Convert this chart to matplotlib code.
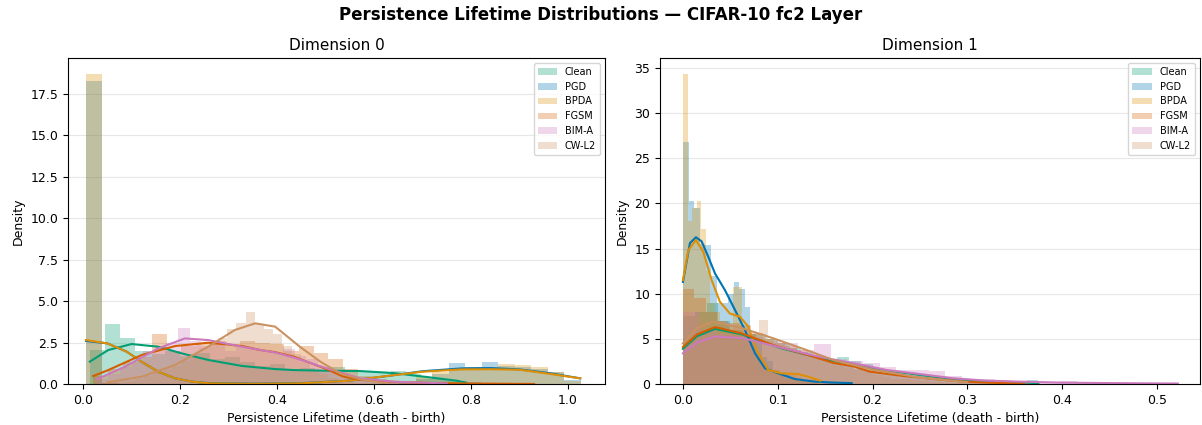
#!/usr/bin/env python3
"""Persistence lifetime histograms (dim 0 / dim 1) for the CIFAR-10 fc2 layer."""

import matplotlib

matplotlib.use("Agg")
import matplotlib.pyplot as plt

SERIES = ["Clean", "PGD", "BPDA", "FGSM", "BIM-A", "CW-L2"]
COLORS = ["#029e73", "#0173b2", "#de8f05", "#d55e00", "#cc78bc", "#ca9161"]

# ---- Dimension 0: histogram bins (start, width, heights) ----
dim0_start = [0.014, 0.006, 0.006, 0.021, 0.028, 0.050]
dim0_width = [0.031, 0.034, 0.034, 0.0303, 0.024, 0.019]
dim0_clean = [2.05, 3.62, 2.8, 2.0, 1.8, 2.0, 1.7, 1.9, 1.5, 1.6, 1.3, 1.1, 1.2, 0.9,
              0.95, 0.8, 1.0, 0.85, 0.8, 0.75, 0.8, 0.6, 0.45, 0.3, 0.2, 0.1]
dim0_pgd = [18.3, 0.05, 0.0, 0.0, 0.0, 0.0, 0.0, 0.0, 0.0, 0.0, 0.0, 0.0, 0.0, 0.0, 0.0,
            0.0, 0.0, 0.0, 0.0, 0.1, 0.3, 0.6, 1.27, 1.05, 1.31, 1.1, 1.0, 0.9, 0.7, 0.25]
dim0_bpda = [18.7, 0.05, 0.0, 0.0, 0.0, 0.0, 0.0, 0.0, 0.0, 0.0, 0.0, 0.0, 0.0, 0.0, 0.0,
             0.0, 0.0, 0.0, 0.05, 0.2, 0.4, 0.7, 0.95, 1.0, 1.05, 1.2, 1.15, 1.0, 0.7, 0.2]
dim0_fgsm = [0.5, 0.9, 1.3, 1.6, 3.0, 2.0, 2.3, 2.4, 2.6, 2.3, 2.6, 2.5, 2.4, 2.0, 2.3,
             1.9, 1.5, 0.9, 0.5, 0.3, 0.2, 0.15, 0.1, 0.05, 0.1, 0.0, 0.05, 0.0, 0.0, 0.05]
dim0_bim = [0.3, 0.6, 1.0, 1.3, 2.0, 2.3, 2.5, 3.36, 2.6, 2.3, 2.4, 2.0, 2.3, 2.1, 2.0,
            1.9, 2.1, 1.7, 1.5, 1.0, 0.7, 0.5, 0.35, 0.25, 0.15, 0.1, 0.05, 0.05, 0.02, 0.02]
dim0_cw = [0.1, 0.15, 0.2, 0.3, 0.5, 0.7, 0.9, 1.1, 1.4, 1.8, 2.2, 2.5, 2.8, 3.3, 3.7,
           4.33, 3.6, 3.3, 3.0, 2.3, 1.8, 1.3, 0.9, 0.6, 0.35, 0.2, 0.1, 0.05, 0.05, 0.02]

# ---- Dimension 0: KDE curves ----
kde0_clean_x = [0.014, 0.052, 0.10, 0.155, 0.203, 0.258, 0.327, 0.396, 0.434, 0.502,
                0.571, 0.64, 0.709, 0.77, 0.79]
kde0_clean_y = [1.35, 2.05, 2.41, 2.25, 1.85, 1.45, 1.09, 0.9, 0.84, 0.8, 0.78, 0.66,
                0.42, 0.2, 0.08]
kde0_pgd_x = [0.006, 0.05, 0.09, 0.12, 0.155, 0.19, 0.225, 0.26, 0.35, 0.45, 0.55, 0.62,
              0.7, 0.78, 0.84, 0.9, 0.96, 1.025]
kde0_pgd_y = [2.6, 2.45, 1.95, 1.35, 0.74, 0.34, 0.14, 0.05, 0.02, 0.05, 0.2, 0.45,
              0.77, 0.94, 0.96, 0.88, 0.66, 0.34]
kde0_bpda_x = [0.006, 0.05, 0.09, 0.12, 0.155, 0.19, 0.225, 0.26, 0.35, 0.45, 0.55, 0.62,
               0.7, 0.78, 0.84, 0.9, 0.96, 1.025]
kde0_bpda_y = [2.65, 2.45, 1.95, 1.35, 0.74, 0.34, 0.14, 0.04, 0.01, 0.04, 0.2, 0.46,
               0.74, 0.88, 0.89, 0.86, 0.62, 0.34]
kde0_fgsm_x = [0.021, 0.052, 0.121, 0.19, 0.258, 0.327, 0.365, 0.396, 0.434, 0.502,
               0.536, 0.571, 0.64, 0.74, 0.93]
kde0_fgsm_y = [0.48, 0.84, 1.75, 2.29, 2.49, 2.3, 2.05, 1.92, 1.65, 0.9, 0.45, 0.25,
               0.13, 0.04, 0.0]
kde0_bim_x = [0.028, 0.087, 0.155, 0.21, 0.258, 0.327, 0.396, 0.434, 0.502, 0.571, 0.64,
              0.75]
kde0_bim_y = [0.28, 1.05, 2.15, 2.75, 2.65, 2.25, 1.9, 1.6, 0.95, 0.34, 0.14, 0.03]
kde0_cw_x = [0.05, 0.121, 0.19, 0.258, 0.313, 0.355, 0.396, 0.447, 0.489, 0.53, 0.571,
             0.62]
kde0_cw_y = [0.1, 0.44, 1.15, 2.25, 3.26, 3.66, 3.46, 2.25, 1.35, 0.64, 0.28, 0.06]

# ---- Dimension 1: histogram bins ----
dim1_start = [0.0, 0.0, 0.0, 0.0, 0.0, 0.0]
dim1_width = [0.0125, 0.00593, 0.00483, 0.012, 0.0173, 0.01]
dim1_clean = [7.5, 8.0, 9.0, 7.0, 6.0, 5.5, 5.5, 5.0, 4.5, 4.0, 3.5, 3.0, 2.7, 3.0, 2.5,
              2.2, 1.8, 1.5, 1.2, 1.0, 1.0, 0.8, 0.6, 0.5, 0.4, 0.3, 0.2, 0.15, 0.1, 0.4]
dim1_pgd = [26.8, 20.3, 19.5, 15.5, 15.4, 12.0, 9.0, 9.0, 10.0, 11.3, 10.5, 8.5, 5.5,
            5.0, 3.0, 2.5, 1.5, 1.2, 1.0, 0.8, 0.5, 0.4, 0.2, 0.3, 0.0, 0.2, 0.1, 0.0,
            0.1, 0.2]
dim1_bpda = [34.3, 18.0, 19.5, 20.3, 17.2, 12.5, 9.0, 8.0, 7.0, 6.5, 6.0, 10.7, 10.7,
             6.0, 5.0, 4.0, 3.0, 2.0, 1.5, 1.2, 1.5, 1.0, 0.5, 1.0, 1.2, 0.8, 0.5, 0.3,
             0.5, 0.3]
dim1_fgsm = [10.5, 9.5, 8.0, 7.0, 6.8, 6.5, 5.6, 5.0, 4.5, 4.2, 3.8, 3.2, 2.8, 2.4, 2.0,
             1.7, 1.5, 1.2, 1.0, 0.8, 0.7, 0.5, 0.5, 0.4, 0.3, 0.2, 0.2, 0.1, 0.1, 0.1]
dim1_bim = [8.0, 6.0, 5.5, 5.0, 5.2, 4.8, 4.5, 3.8, 4.4, 2.8, 2.5, 2.3, 1.9, 1.5, 1.5,
            1.4, 0.9, 0.6, 0.5, 0.4, 0.3, 0.2, 0.1, 0.3, 0.2, 0.1, 0.0, 0.1, 0.0, 0.05]
dim1_cw = [8.0, 7.5, 7.0, 6.5, 6.0, 6.5, 6.0, 5.5, 7.1, 5.0, 4.5, 4.0, 3.5, 3.0, 2.8,
           2.5, 2.0, 1.8, 1.5, 1.3, 1.0, 0.8, 0.6, 0.5, 0.4, 0.3, 0.2, 0.2, 0.1, 0.1]

# ---- Dimension 1: KDE curves ----
kde1_clean_x = [0.0, 0.015, 0.034, 0.062, 0.083, 0.104, 0.132, 0.16, 0.18, 0.215, 0.25,
                0.285, 0.32, 0.375]
kde1_clean_y = [3.9, 5.3, 6.1, 5.5, 4.7, 3.95, 3.2, 2.5, 2.2, 1.48, 1.0, 0.55, 0.3, 0.1]
kde1_pgd_x = [0.0, 0.0074, 0.0137, 0.0197, 0.0267, 0.0338, 0.0443, 0.0549, 0.0654,
              0.076, 0.0865, 0.1005, 0.118, 0.139, 0.16, 0.178]
kde1_pgd_y = [11.3, 15.6, 16.25, 15.8, 14.1, 12.25, 10.4, 8.2, 5.98, 3.4, 1.74, 1.18,
              0.55, 0.26, 0.15, 0.1]
kde1_bpda_x = [0.0, 0.0056, 0.0137, 0.0214, 0.0303, 0.039, 0.0496, 0.0601, 0.0689,
               0.0777, 0.09, 0.104, 0.1216, 0.132, 0.145]
kde1_bpda_y = [11.5, 14.8, 15.95, 14.65, 11.5, 9.1, 7.8, 7.45, 6.35, 3.77, 1.55, 1.18,
               1.1, 0.81, 0.37]
kde1_fgsm_x = [0.0, 0.015, 0.034, 0.062, 0.097, 0.132, 0.16, 0.18, 0.197, 0.232, 0.268,
               0.296, 0.32, 0.36]
kde1_fgsm_y = [4.1, 5.5, 6.3, 5.6, 4.25, 3.2, 2.3, 1.95, 1.37, 0.89, 0.52, 0.26, 0.15,
               0.05]
kde1_bim_x = [0.0, 0.015, 0.034, 0.062, 0.097, 0.132, 0.1445, 0.18, 0.215, 0.25, 0.285,
              0.32, 0.355, 0.4, 0.45, 0.522]
kde1_bim_y = [3.4, 4.6, 5.25, 5.1, 4.2, 3.3, 3.0, 2.29, 1.55, 1.1, 0.63, 0.37, 0.26,
              0.15, 0.1, 0.05]
kde1_cw_x = [0.0, 0.015, 0.032, 0.062, 0.097, 0.132, 0.16, 0.2, 0.25, 0.3]
kde1_cw_y = [4.5, 6.2, 6.9, 6.2, 5.0, 3.7, 2.6, 1.6, 0.7, 0.2]

PANELS = [
    {
        "title": "Dimension 0",
        "starts": dim0_start,
        "widths": dim0_width,
        "hists": [dim0_clean, dim0_pgd, dim0_bpda, dim0_fgsm, dim0_bim, dim0_cw],
        "kdes": [(kde0_clean_x, kde0_clean_y), (kde0_pgd_x, kde0_pgd_y),
                 (kde0_bpda_x, kde0_bpda_y), (kde0_fgsm_x, kde0_fgsm_y),
                 (kde0_bim_x, kde0_bim_y), (kde0_cw_x, kde0_cw_y)],
        "xlim": (-0.031, 1.076),
        "ylim": (0, 19.67),
        "xticks": [0.0, 0.2, 0.4, 0.6, 0.8, 1.0],
        "yticks": [0.0, 2.5, 5.0, 7.5, 10.0, 12.5, 15.0, 17.5],
        "ytick_fmt": "{:.1f}",
        "pos": [0.0566, 0.0965, 0.4467, 0.767],
    },
    {
        "title": "Dimension 1",
        "starts": dim1_start,
        "widths": dim1_width,
        "hists": [dim1_clean, dim1_pgd, dim1_bpda, dim1_fgsm, dim1_bim, dim1_cw],
        "kdes": [(kde1_clean_x, kde1_clean_y), (kde1_pgd_x, kde1_pgd_y),
                 (kde1_bpda_x, kde1_bpda_y), (kde1_fgsm_x, kde1_fgsm_y),
                 (kde1_bim_x, kde1_bim_y), (kde1_cw_x, kde1_cw_y)],
        "xlim": (-0.0243, 0.545),
        "ylim": (0, 36.1),
        "xticks": [0.0, 0.1, 0.2, 0.3, 0.4, 0.5],
        "yticks": [0, 5, 10, 15, 20, 25, 30, 35],
        "ytick_fmt": "{:d}",
        "pos": [0.549, 0.0965, 0.449, 0.767],
    },
]

fig = plt.figure(figsize=(12.02, 4.25), dpi=100)
fig.suptitle("Persistence Lifetime Distributions — CIFAR-10 fc2 Layer",
             fontsize=12, fontweight="bold", y=0.985)

for panel in PANELS:
    ax = fig.add_axes(panel["pos"])
    for name, color, start, width, heights in zip(
        SERIES, COLORS, panel["starts"], panel["widths"], panel["hists"]
    ):
        edges = [start + i * width for i in range(len(heights))]
        ax.bar(edges, heights, width=width, align="edge", color=color, alpha=0.3,
               linewidth=0, label=name)
    for color, (xs, ys) in zip(COLORS, panel["kdes"]):
        ax.plot(xs, ys, color=color, linewidth=1.5)

    ax.set_xlim(*panel["xlim"])
    ax.set_ylim(*panel["ylim"])
    ax.set_xticks(panel["xticks"])
    ax.set_yticks(panel["yticks"],
                  [panel["ytick_fmt"].format(t) for t in panel["yticks"]])
    ax.tick_params(labelsize=9)
    ax.grid(axis="y", color="#dddddd", linewidth=0.8, alpha=0.7)
    ax.set_axisbelow(True)
    ax.set_title(panel["title"], fontsize=11)
    ax.set_xlabel("Persistence Lifetime (death - birth)", fontsize=9)
    ax.set_ylabel("Density", fontsize=9)
    ax.legend(loc="upper right", fontsize=7)

fig.savefig("out.png", dpi=100)
